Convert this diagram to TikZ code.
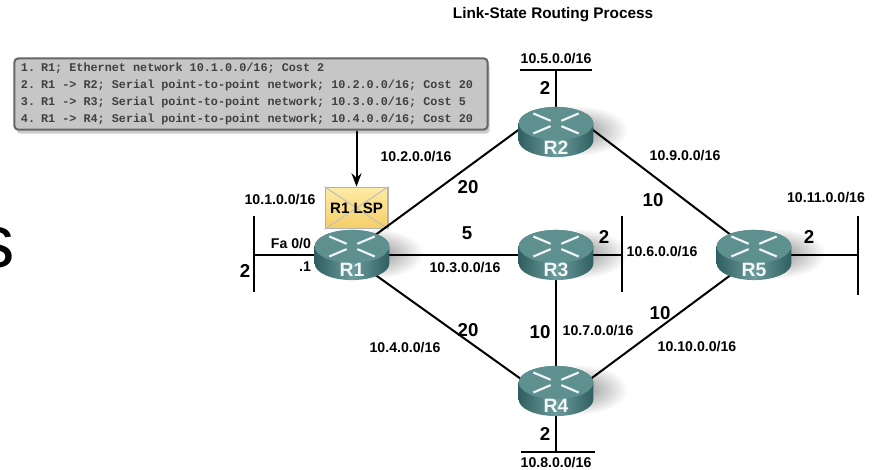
\documentclass[tikz,border=0pt]{standalone}
\usepackage{fontspec}
\setmainfont{Liberation Sans}
\newfontfamily\boxfont{Liberation Mono}
\usetikzlibrary{arrows.meta,shadows}
\definecolor{routertop}{HTML}{5E9090}
\definecolor{routerdark}{HTML}{2F5F60}
\definecolor{routermid}{HTML}{6C9C9C}
\definecolor{boxfill}{HTML}{C6C6C6}
\definecolor{lsptop}{HTML}{FDEBA6}
\definecolor{lspbottom}{HTML}{F6CE66}
\tikzset{
  router/.style={inner sep=0pt, minimum width=27pt, minimum height=24pt},
  routertext/.style={text=white!92!routermid, font=\fontsize{14.5}{15}\selectfont\bfseries, inner sep=0pt},
  net/.style={font=\fontsize{10.6}{11}\selectfont\bfseries, inner sep=0pt},
  cost/.style={font=\fontsize{14}{14}\selectfont\bfseries, inner sep=0pt},
  link/.style={line width=1.5pt},
}
\newcommand{\routernode}[2]{
  \shade[inner color=black!45, outer color=white] ([xshift=16pt, yshift=1pt]#2) ellipse (38pt and 19pt);
  \node[router] (#1) at (#2) {};
}
\newcommand{\routerbody}[2]{
  \shade[left color=routerdark, right color=routerdark, middle color=routermid]
    ([shift={(-28pt,6.4pt)}]#1.center) -- ++(0,-12.8pt) arc (180:360:28pt and 12.4pt) -- ++(0,12.8pt) arc (0:180:28pt and 12.4pt) -- cycle;
  \fill[routertop] ([yshift=6.4pt]#1.center) ellipse (28pt and 12.4pt);
  \foreach \sx in {-1,1} \foreach \sy in {-1,1}
    \draw[white!90!routertop, line width=1.6pt] ([xshift=\sx*4pt, yshift=6.4pt+\sy*2pt]#1.center) -- ([xshift=\sx*17pt, yshift=6.4pt+\sy*7.5pt]#1.center);
  \node[routertext] (#1t) at ([yshift=-11.5pt]#1.center) {#2};
}
\begin{document}
\begin{tikzpicture}[x=0.75pt, y=-0.75pt]
  \useasboundingbox (0,0) rectangle (874,470);

  \node[font=\fontsize{56}{56}\selectfont, inner sep=0pt] (s) at (-4,248) {s};
  \node[font=\fontsize{11.5}{12}\selectfont\bfseries, inner sep=0pt] (title) at (553,15) {Link-State Routing Process};

  \node[draw=black!60, line width=1.5pt, fill=boxfill, rounded corners=3pt, inner xsep=5pt, inner ysep=3.5pt,
    text width=345pt, align=left, text=black!75, drop shadow={shadow xshift=1.5pt, shadow yshift=-3pt, opacity=.4},
    font=\boxfont\fontsize{8.85}{12.75}\selectfont\bfseries] (lsa) at (251,94)
    {\spaceskip=5.31pt\relax 1. R1; Ethernet network 10.1.0.0/16; Cost 2\\
     2. R1 -> R2; Serial point-to-point network; 10.2.0.0/16; Cost 20\\
     3. R1 -> R3; Serial point-to-point network; 10.3.0.0/16; Cost 5\\
     4. R1 -> R4; Serial point-to-point network; 10.4.0.0/16; Cost 20};

  \routernode{R1}{352,255}
  \routernode{R2}{556,132}
  \routernode{R3}{556,255}
  \routernode{R4}{556,391}
  \routernode{R5}{754,255}

  \node[draw=black!30, line width=1pt, minimum width=47pt, minimum height=31pt, inner sep=0pt,
    top color=lsptop, bottom color=lspbottom] (lsp) at (356.5,208) {};
  \draw[white!75!black, line width=.8pt] (lsp.north west) -- (lsp.center) -- (lsp.north east)
    (lsp.south west) -- (lsp.center) -- (lsp.south east);
  \node[net, font=\fontsize{11.3}{12}\selectfont\bfseries] (lsptext) at (lsp.center) {R1 LSP};

  \draw[-{Stealth[length=10pt,width=7.5pt]}, link] (lsp |- lsa.south) -- (lsp.north);

  \coordinate (e1) at (254,255);
  \coordinate (e2) at (556,70);
  \coordinate (e3) at (622,255);
  \coordinate (e4) at (556,452);
  \coordinate (e5) at (858,255);

  \path[link]
  (R1) edge (R3)
  (R1.north east) edge (R2.north west)
  (R1.south east) edge (R4.west)
  (R2.north east) edge (R5.north west)
  (R3) edge (R4)
  (R4.east) edge (R5.south west)

  (R1) edge (e1)
  (R2) edge (e2)
  (R3) edge (e3)
  (R4) edge (e4)
  (R5) edge (e5);

  \draw[link]
  (254,216) -- (254,292)
  (622,216) -- (622,292)
  (858,216) -- (858,295)
  (520,70) -- (592,70)
  (521,452) -- (595,452);

  \routerbody{R1}{R1}
  \routerbody{R2}{R2}
  \routerbody{R3}{R3}
  \routerbody{R4}{R4}
  \routerbody{R5}{R5}

  \node[net] (n1) at (280,200) {10.1.0.0/16};
  \node[net] (n2) at (416,157) {10.2.0.0/16};
  \node[net] (n3) at (465,268) {10.3.0.0/16};
  \node[net] (n4) at (405,348) {10.4.0.0/16};
  \node[net] (n5) at (556,59) {10.5.0.0/16};
  \node[net] (n6) at (662,252) {10.6.0.0/16};
  \node[net] (n7) at (598,331) {10.7.0.0/16};
  \node[net] (n8) at (556,463) {10.8.0.0/16};
  \node[net] (n9) at (685,156) {10.9.0.0/16};
  \node[net] (n10) at (697,347) {10.10.0.0/16};
  \node[net] (n11) at (826,198) {10.11.0.0/16};
  \node[net] (fa) at (291,244) {Fa 0/0};
  \node[net] (ip) at (305,267) {.1};

  \node[cost] (c1) at (245,271) {2};
  \node[cost] (c2) at (545,88) {2};
  \node[cost] (c3) at (604,237) {2};
  \node[cost] (c4) at (545,434) {2};
  \node[cost] (c5) at (809,237) {2};
  \node[cost] (c12) at (468,187) {20};
  \node[cost] (c13) at (467,233) {5};
  \node[cost] (c14) at (468,330) {20};
  \node[cost] (c25) at (653,200) {10};
  \node[cost] (c34) at (540,332) {10};
  \node[cost] (c45) at (660,313) {10};
\end{tikzpicture}
\end{document}
